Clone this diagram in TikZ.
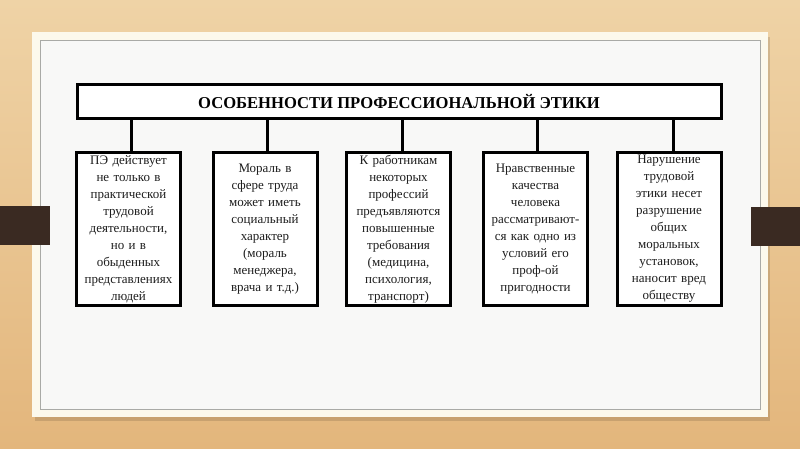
\documentclass[tikz,border=0pt]{standalone}
\usepackage{fontspec}
\setmainfont{Liberation Serif}
\usetikzlibrary{positioning}
\definecolor{woodlight}{HTML}{EFD3A6}
\definecolor{wooddark}{HTML}{E3B67C}
\definecolor{panelcream}{HTML}{FCF9EC}
\definecolor{panelwhite}{HTML}{F8F8F7}
\definecolor{panelline}{HTML}{A9AAA6}
\definecolor{barbrown}{HTML}{3A2A22}
\definecolor{inktext}{HTML}{1E1E1E}
\tikzset{
	featbox/.style={draw, line width=3pt, fill=white, inner sep=0pt, text width=100pt, minimum width=104pt, minimum height=152pt, align=center, text=inktext, font=\fontsize{13}{17}\selectfont},
	titlebox/.style={draw, line width=3pt, fill=white, inner sep=0pt, minimum width=644pt, minimum height=34pt, font=\bfseries\fontsize{16.6}{18}\selectfont},
	link/.style={line width=3pt}
}
\begin{document}
\begin{tikzpicture}[x=1pt,y=-1pt]
		\useasboundingbox (0,0) rectangle (800,449);
		
		% wooden background
		\shade[top color=woodlight, bottom color=wooddark] (0,0) rectangle (800,449);
		
		% slide panel
		\fill[black, opacity=0.12] (35,37) rectangle (770,421);
		\fill[panelcream] (32,32) rectangle (768,417);
		\draw[panelline, fill=panelwhite, line width=0.8pt] (40,40) rectangle (760,409);
		
		% side bars
		\fill[barbrown] (0,206) rectangle (50,245);
		\fill[barbrown] (751,207) rectangle (800,246);
		
		% title
		\node[titlebox] (title) at (399,102) {ОСОБЕННОСТИ ПРОФЕССИОНАЛЬНОЙ ЭТИКИ};
		
		% features
		\node[featbox] (ethics) at (128.5,229) {ПЭ действует\\ не только в\\ практической\\ трудовой\\ деятельности,\\ но и в\\ обыденных\\ представлениях\\ людей};
		\node[featbox] (labour) at (265,229) {Мораль в\\ сфере труда\\ может иметь\\ социальный\\ характер\\ (мораль\\ менеджера,\\ врача и т.д.)};
		\node[featbox] (demands) at (398.5,229) {К работникам\\ некоторых\\ профессий\\ предъявляются\\ повышенные\\ требования\\ (медицина,\\ психология,\\ транспорт)};
		\node[featbox] (qualities) at (535.5,229) {Нравственные\\ качества\\ человека\\ рассматривают-\\ ся как одно из\\ условий его\\ проф-ой\\ пригодности};
		\node[featbox] (breach) at (669,229) {Нарушение\\ трудовой\\ этики несет\\ разрушение\\ общих\\ моральных\\ установок,\\ наносит вред\\ обществу};
		
		% links
		\draw[link] ([xshift=3pt]ethics.north) -- ([xshift=3pt]ethics.north |- title.south);
		\draw[link] ([xshift=2pt]labour.north) -- ([xshift=2pt]labour.north |- title.south);
		\draw[link] ([xshift=4pt]demands.north) -- ([xshift=4pt]demands.north |- title.south);
		\draw[link] ([xshift=1.5pt]qualities.north) -- ([xshift=1.5pt]qualities.north |- title.south);
		\draw[link] ([xshift=4pt]breach.north) -- ([xshift=4pt]breach.north |- title.south);
		
	\end{tikzpicture}
\end{document}
